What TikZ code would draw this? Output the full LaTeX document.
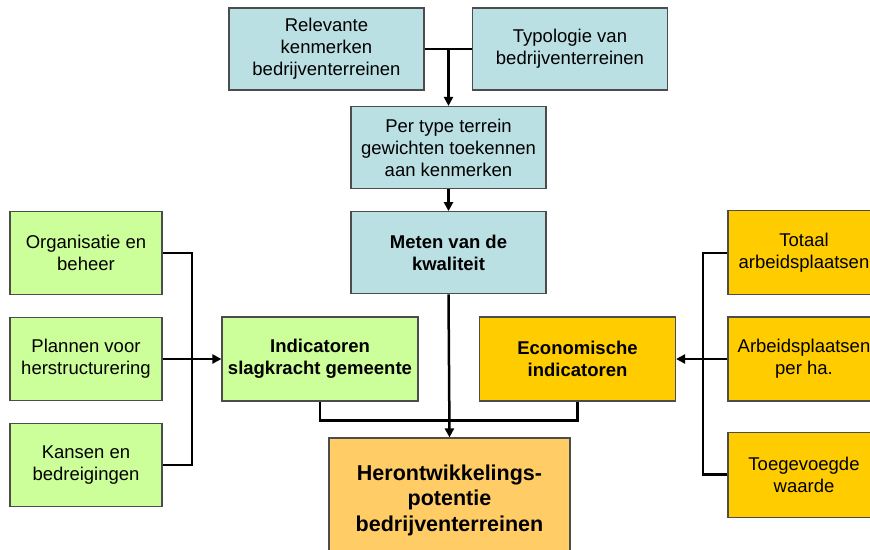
\documentclass[tikz,border=0pt]{standalone}
\usepackage{fontspec}
\setmainfont{Liberation Sans}
\usetikzlibrary{positioning,arrows.meta}
\definecolor{kwalblue}{HTML}{BBE0E3}
\definecolor{slaggreen}{HTML}{CCFF99}
\definecolor{ecogold}{HTML}{FFCC00}
\definecolor{potorange}{HTML}{FFCC66}

\begin{document}
\begin{tikzpicture} [
	x=1pt,y=-1pt,
	node distance=22pt,
	box/.style={
		rectangle,draw=black!70,line width=1.2pt,
		align=center,inner sep=2pt,
		font=\fontsize{18.5}{22}\selectfont},
	kwal/.style={
		box,fill=kwalblue,
		minimum width=195pt,minimum height=82pt},
	slag/.style={
		box,fill=slaggreen,
		minimum width=196pt,minimum height=84pt},
	slagsmall/.style={
		box,fill=slaggreen,
		minimum width=152pt,minimum height=83pt},
	eco/.style={
		box,fill=ecogold,
		minimum width=196pt,minimum height=84pt},
	ecosmall/.style={
		box,fill=ecogold,
		minimum width=152pt,minimum height=84pt},
	pot/.style={
		box,fill=potorange,
		minimum width=241pt,minimum height=124pt,
		font=\fontsize{21.5}{25.5}\selectfont\bfseries},
	bar/.style={
		line width=2.5pt},
	tip/.style={
		bar,-{Triangle[length=9pt,width=9pt]}}]
\useasboundingbox (0,0) rectangle (870,549);
\node [kwal]	(relevant) at (326.5,49)	{Relevante\\kenmerken\\bedrijventerreinen};
\node [kwal]	(typologie) at (570,49)	{Typologie van\\bedrijventerreinen};
\node [kwal]	(gewicht) at (448.5,147.5)	{Per type terrein\\gewichten toekennen\\aan kenmerken};
\node [kwal,font=\fontsize{18.5}{22}\selectfont\bfseries]	(meten) [below=of gewicht]	{Meten van de\\kwaliteit};
\node [slag,font=\fontsize{18.5}{22}\selectfont\bfseries]	(indicatoren) at (320,359)	{Indicatoren\\slagkracht gemeente};
\node [eco,font=\fontsize{18.5}{22}\selectfont\bfseries]	(economisch) at (577.5,359)	{Economische\\indicatoren};
\node [pot]	(potentie) at (449.5,500)	{Herontwikkelings-\\potentie\\bedrijventerreinen};
\node [slagsmall]	(plannen) at (86,359)	{Plannen voor\\herstructurering};
\node [slagsmall]	(organisatie) [above=of plannen]	{Organisatie en\\beheer};
\node [slagsmall]	(kansen) [below=of plannen]	{Kansen en\\bedreigingen};
\node [ecosmall]	(arbeidha) at (804,359)	{Arbeidsplaatsen\\per ha.};
\node [ecosmall]	(totaal) [above=21pt of arbeidha]	{Totaal\\arbeidsplaatsen};
\node [ecosmall,minimum height=85pt]	(toegevoegd) [below=30pt of arbeidha]	{Toegevoegde\\waarde};
\coordinate (split) at (relevant.east -| gewicht.north);
\coordinate (leftbus) at (192,359);
\coordinate (rightbus) at (703,359);
\draw[bar] (relevant.east) -- (typologie.west);
\draw[tip] (split) -- (gewicht.north);
\draw[tip] (gewicht.south) -- (meten.north);
\draw[bar] (organisatie.east) -| (leftbus);
\draw[bar] (kansen.east) -| (leftbus);
\draw[tip] (plannen.east) -- (indicatoren.west);
\draw[bar] (totaal.west) -| (rightbus);
\draw[bar] (toegevoegd.west) -| (rightbus);
\draw[tip] (arbeidha.west) -- (economisch.east);
\draw[bar] (indicatoren.south) -- ++(0,19) -| (economisch.south);
\draw[tip] (meten.south) -- (potentie.north);
\end{tikzpicture}
\end{document}
